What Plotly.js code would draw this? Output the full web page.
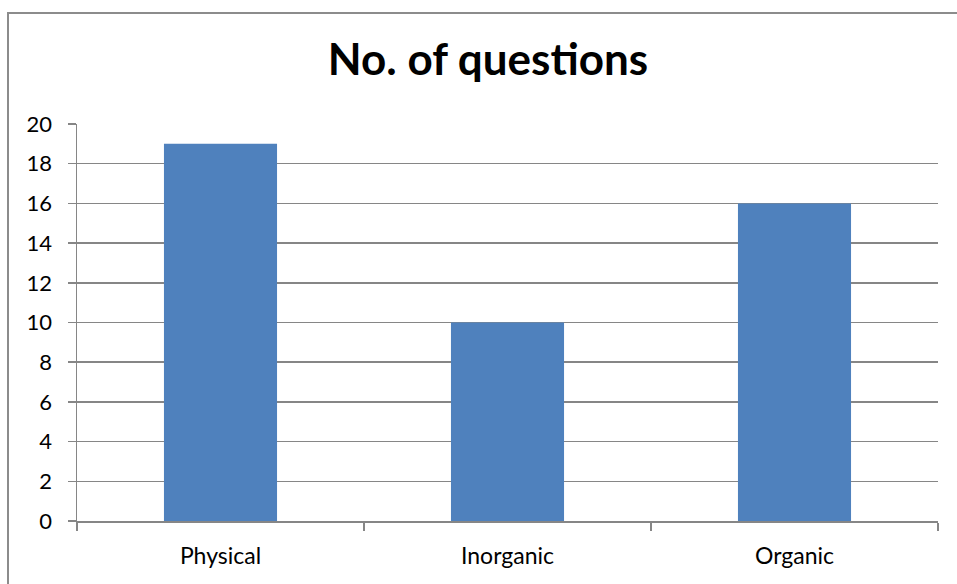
<!DOCTYPE html>
<html><head><meta charset="utf-8">
<script src="https://cdn.plot.ly/plotly-3.0.1.min.js"></script>
<style>
html,body{margin:0;padding:0;background:#fff;overflow:hidden;}
#frame{position:absolute;left:7px;top:12px;width:1000px;height:700px;border:2px solid #8c8c8c;box-sizing:border-box;}
#chart{position:absolute;left:0;top:0;width:957px;height:584px;}
</style></head>
<body>
<div id="chart"></div>
<div id="frame"></div>
<script>
const categories = ["Physical", "Inorganic", "Organic"];
const questions = [19, 10, 16];
const yTicks = [0, 2, 4, 6, 8, 10, 12, 14, 16, 18, 20];
const titleText = "No. of questions";

const fontFam = "Lato, 'Open Sans', sans-serif";
Plotly.newPlot("chart", [{
  type: "bar",
  x: categories,
  y: questions,
  marker: {color: "#4F81BD"},
  hoverinfo: "none"
}], {
  width: 957, height: 584,
  margin: {l: 77, r: 19, t: 124, b: 63},
  paper_bgcolor: "#fff", plot_bgcolor: "#fff",
  bargap: 0.606,
  showlegend: false,
  title: {text: "<b>" + titleText + "</b>", x: 488/957, xref: "container", xanchor: "center", y: 1 - 60/584, yanchor: "middle",
          font: {family: fontFam, size: 44, color: "#000"}},
  xaxis: {
    type: "category",
    tickson: "boundaries",
    ticks: "outside", ticklen: 8, tickcolor: "#868686", tickwidth: 1.5,
    showline: true, linecolor: "#868686", linewidth: 1.5,
    showgrid: false, zeroline: false,
    tickfont: {family: fontFam, size: 23, color: "#000"},
    ticklabelstandoff: 14
  },
  yaxis: {
    range: [0, 20],
    tickvals: yTicks,
    ticks: "outside", ticklen: 8, tickcolor: "#868686", tickwidth: 1.5,
    showline: true, linecolor: "#868686", linewidth: 1.5,
    showgrid: true, gridcolor: "#868686", gridwidth: 1.5,
    zeroline: false,
    tickfont: {family: fontFam, size: 22, color: "#000"},
    ticklabelstandoff: 11
  }
}, {staticPlot: true});
</script>
</body></html>
